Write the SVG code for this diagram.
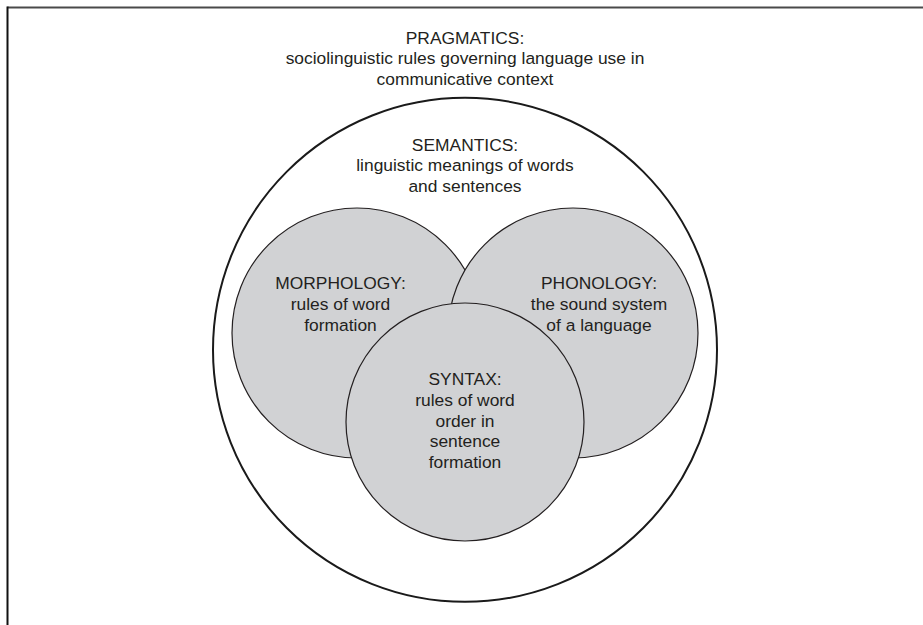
<svg xmlns="http://www.w3.org/2000/svg" width="923" height="625" viewBox="0 0 923 625">
<style>
  text { font-family: "Liberation Sans", Arial, sans-serif; font-size: 17.4px; fill: #231f20; text-anchor: middle; }
  .outer { fill: #ffffff; stroke: #1a1a1a; stroke-width: 2; }
  .inner { fill: #d1d2d4; stroke: #231f20; stroke-width: 1.2; }
</style>
<rect width="923" height="625" fill="#ffffff"/>
<g id="frame">
  <line x1="7.5" y1="7.5" x2="923" y2="7.5" stroke="#4a4a4a" stroke-width="2"/>
  <line x1="7.5" y1="6.5" x2="7.5" y2="625" stroke="#111111" stroke-width="2"/>
</g>
<g id="pragmatics">
  <text x="465" y="43.5">PRAGMATICS:</text>
  <text x="465" y="64.3">sociolinguistic rules governing language use in</text>
  <text x="465" y="85">communicative context</text>
</g>
<g id="semantics">
  <circle class="outer" cx="465" cy="349.8" r="252"/>
  <text x="465" y="150.5">SEMANTICS:</text>
  <text x="465" y="171">linguistic meanings of words</text>
  <text x="465" y="191.5">and sentences</text>
</g>
<g id="morphology">
  <circle class="inner" cx="357" cy="333" r="125"/>
  <text x="340.5" y="289">MORPHOLOGY:</text>
  <text x="340.5" y="309.8">rules of word</text>
  <text x="340.5" y="330.6">formation</text>
</g>
<g id="phonology">
  <circle class="inner" cx="573" cy="333" r="125"/>
  <text x="599" y="289">PHONOLOGY:</text>
  <text x="599" y="309.8">the sound system</text>
  <text x="599" y="330.6">of a language</text>
</g>
<g id="syntax">
  <circle class="inner" cx="465" cy="422" r="119"/>
  <text x="465" y="385">SYNTAX:</text>
  <text x="465" y="405.8">rules of word</text>
  <text x="465" y="426.6">order in</text>
  <text x="465" y="447.4">sentence</text>
  <text x="465" y="468.2">formation</text>
</g>
<g id="connectors"></g>
</svg>
